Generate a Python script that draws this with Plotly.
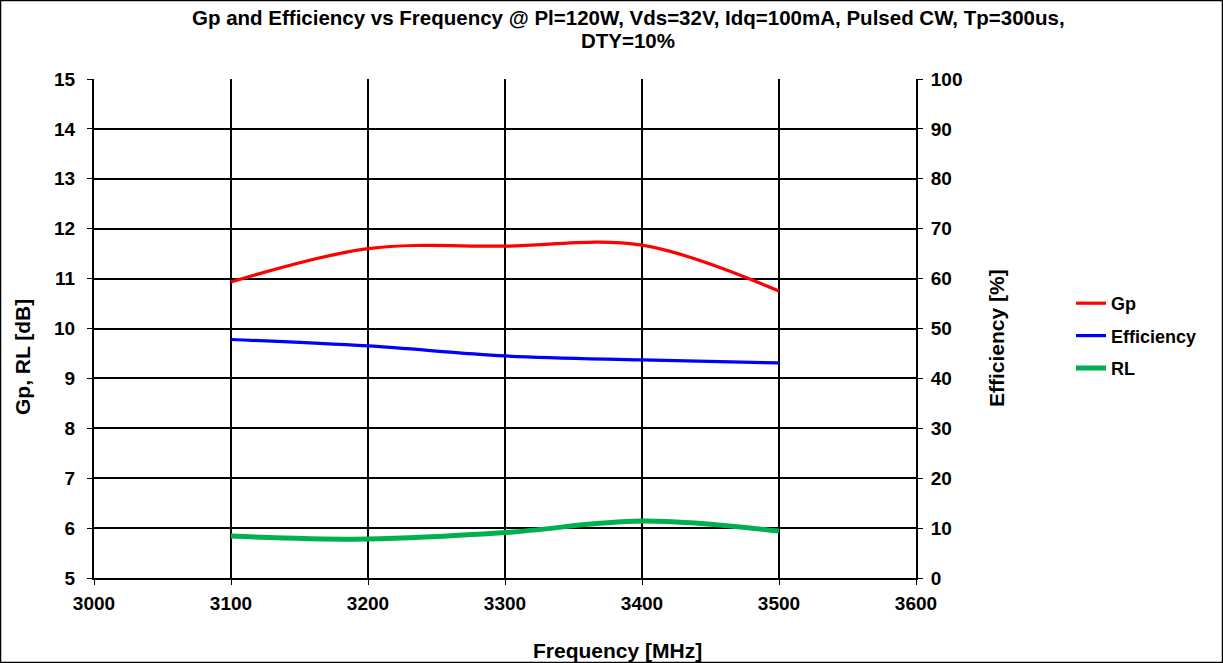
import plotly.graph_objects as go

freq = [3100, 3200, 3300, 3400, 3500]
gp = [10.93, 11.60, 11.65, 11.67, 10.75]
efficiency = [47.8, 46.5, 44.5, 43.7, 43.1]
rl = [5.84, 5.78, 5.91, 6.14, 5.94]

title_lines = ["Gp and Efficiency vs Frequency @ Pl=120W, Vds=32V, Idq=100mA, Pulsed CW, Tp=300us,",
               "DTY=10%"]
x_title = "Frequency [MHz]"
y_title = "Gp, RL [dB]"
y2_title = "Efficiency [%]"

W, H = 1223, 663
L, R, T, B = 94, 307, 79, 85
pw = W - L - R
ph = H - T - B
FONT = "Liberation Sans"


def px_x(p):
    return (p - L) / pw


def px_y(p):
    return (H - B - p) / ph


fig = go.Figure()
fig.add_trace(go.Scatter(x=freq, y=gp, name="<b>Gp</b>", mode="lines",
                         line=dict(color="#FF0000", width=3.2, shape="spline", smoothing=1),
                         legendgroup="a", yaxis="y"))
fig.add_trace(go.Scatter(x=freq, y=efficiency, name="<b>Efficiency</b>", mode="lines",
                         line=dict(color="#0000FF", width=3.2, shape="spline", smoothing=1),
                         legendgroup="b", yaxis="y2"))
fig.add_trace(go.Scatter(x=freq, y=rl, name="<b>RL</b>", mode="lines",
                         line=dict(color="#00B050", width=5, shape="spline", smoothing=1),
                         legendgroup="c", yaxis="y"))

tick_font = dict(family=FONT, size=19, color="black")
title_font = dict(family=FONT, size=21, color="black")
common = dict(showline=True, linecolor="black", linewidth=2, ticks="outside", ticklen=5,
              tickcolor="black", tickfont=tick_font, tickprefix="<b>", ticksuffix="</b>",
              zeroline=False, automargin=False)
fig.update_layout(
    width=W, height=H,
    margin=dict(l=L, r=R, t=T, b=B, autoexpand=False),
    paper_bgcolor="white", plot_bgcolor="white",
    font=dict(family=FONT, color="black"),
    xaxis=dict(range=[3000, 3600], dtick=100, tick0=3000, showgrid=True, gridcolor="black", gridwidth=1.5,
               ticklabelstandoff=2, **common),
    yaxis=dict(range=[5, 15], dtick=1, showgrid=True, gridcolor="black", gridwidth=1.5,
               ticklabelstandoff=8, **common),
    yaxis2=dict(range=[0, 100], dtick=10, overlaying="y", side="right", showgrid=False,
                ticklabelstandoff=4, **common),
    legend=dict(x=px_x(1071), xanchor="left", y=px_y(336), yanchor="middle",
                font=dict(family=FONT, size=18, color="black"), traceorder="grouped",
                tracegroupgap=6, bgcolor="rgba(0,0,0,0)"),
    showlegend=True,
)

for line, yc in zip(title_lines, [18, 40]):
    fig.add_annotation(text=f"<b>{line}</b>", xref="paper", yref="paper",
                       x=px_x(628), y=px_y(yc), xanchor="center", yanchor="middle",
                       showarrow=False, font=dict(family=FONT, size=20.5, color="black"))

fig.add_annotation(text=f"<b>{x_title}</b>", xref="paper", yref="paper",
                   x=px_x(617), y=px_y(650), xanchor="center", yanchor="middle",
                   showarrow=False, font=title_font)
fig.add_annotation(text=f"<b>{y_title}</b>", xref="paper", yref="paper",
                   x=px_x(22), y=px_y(357), xanchor="center", yanchor="middle",
                   textangle=-90, showarrow=False, font=title_font)
fig.add_annotation(text=f"<b>{y2_title}</b>", xref="paper", yref="paper",
                   x=px_x(996), y=px_y(338), xanchor="center", yanchor="middle",
                   textangle=-90, showarrow=False, font=title_font)

fig.add_shape(type="rect", xref="paper", yref="paper",
              x0=px_x(0.5), x1=px_x(W - 0.5), y0=px_y(H - 0.5), y1=px_y(0.5),
              line=dict(color="black", width=1.5), layer="below")

fig.write_html("out.html", config={"displayModeBar": False},
               post_script="document.body.style.margin='0';document.body.style.padding='0';")
